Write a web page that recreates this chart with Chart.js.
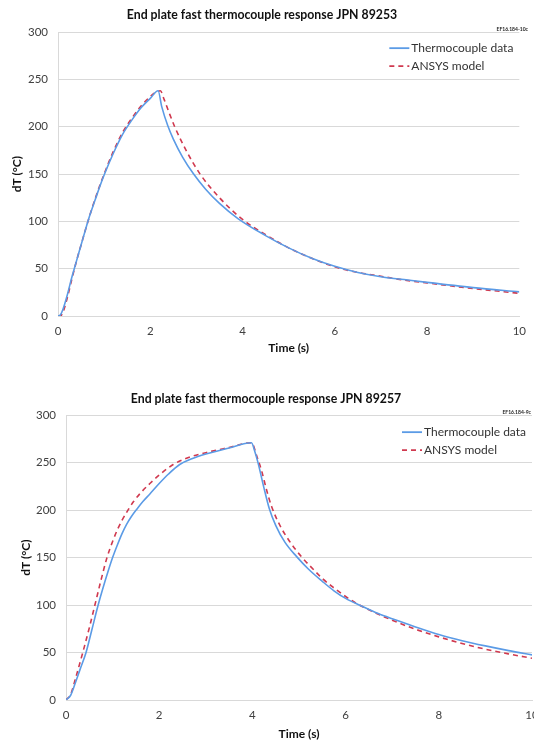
<!DOCTYPE html>
<html>
<head>
<meta charset="utf-8">
<script src="https://cdn.jsdelivr.net/npm/chart.js@4.4.1/dist/chart.umd.min.js"></script>
<style>
    html, body { margin: 0; padding: 0; background: #fff; overflow: hidden; width: 534px; height: 742px; }
    .panel { position: absolute; left: 0; }
    #panel1 { top: 0; }
    #panel2 { top: 380px; }
</style>
</head>
<body>
<div class="panel" id="panel1"><canvas id="chart1" width="534" height="360"></canvas></div>
<div class="panel" id="panel2"><canvas id="chart2" width="548" height="362"></canvas></div>
<script>
    // JPN 89253 - thermocouple data
    const timeTc1 = [0, 0.05, 0.1, 0.2, 0.3, 0.4, 0.5, 0.6, 0.7, 0.8, 0.9, 1.0, 1.2, 1.4, 1.6, 1.8, 2.0, 2.17, 2.25, 2.38, 2.5, 2.7, 2.94, 3.2, 3.5, 3.9, 4.5, 5, 5.5, 6, 6.5, 7, 7.5, 8, 9, 10];
    const tempTc1 = [0, 1, 6, 22, 41, 58, 75, 92, 108, 122, 136, 149, 172, 192, 207, 220, 230, 238, 221, 201, 187, 168, 150, 134, 119, 103, 85, 72, 61, 52.5, 46, 41.5, 38.5, 35.5, 30, 25.5];
    // JPN 89253 - ANSYS model
    const timeModel1 = [0, 0.05, 0.1, 0.2, 0.3, 0.4, 0.5, 0.6, 0.7, 0.8, 0.9, 1.0, 1.2, 1.4, 1.6, 1.8, 2.0, 2.1, 2.22, 2.3, 2.4, 2.53, 2.8, 3.08, 3.5, 4.0, 4.5, 5, 5.5, 6, 6.5, 7, 7.5, 8, 9, 10];
    const tempModel1 = [0, 0, 3, 19, 39, 58, 75, 92, 108, 123, 137, 150, 174, 194, 209, 222, 232, 236, 238, 229, 216, 200, 173, 150, 125, 102, 86, 72, 61, 52, 46, 42, 38, 35, 29, 24];

    // JPN 89257 - thermocouple data
    const timeTc2 = [0, 0.1, 0.2, 0.3, 0.43, 0.55, 0.69, 0.8, 0.9, 1.0, 1.1, 1.2, 1.3, 1.4, 1.52, 1.65, 1.8, 2.0, 2.2, 2.44, 2.7, 3.0, 3.5, 3.98, 4.05, 4.12, 4.24, 4.36, 4.5, 4.7, 4.95, 5.2, 5.5, 5.75, 6.0, 6.34, 6.7, 7, 7.5, 8, 8.5, 9, 9.5, 10];
    const tempTc2 = [0, 5, 18, 32, 50, 73, 100, 119, 135, 150, 163, 175, 185, 193, 201, 209, 217, 228, 238, 248, 254, 259, 265.5, 271, 262, 250, 225, 202, 184, 166, 151, 138, 125, 115, 107, 99, 91, 85.5, 77, 69, 62.5, 57, 52, 47.5];
    // JPN 89257 - ANSYS model
    const timeModel2 = [0, 0.1, 0.2, 0.36, 0.5, 0.62, 0.75, 0.88, 1.0, 1.1, 1.2, 1.33, 1.45, 1.6, 1.8, 2.0, 2.3, 2.6, 3.0, 3.5, 3.98, 4.1, 4.2, 4.3, 4.41, 4.6, 4.8, 5.05, 5.3, 5.5, 5.75, 6.0, 6.26, 6.5, 7, 7.5, 8, 8.5, 9, 9.5, 10];
    const tempModel2 = [0, 6, 22, 50, 76, 100, 126, 150, 167, 179, 189, 200, 209, 218, 228, 237, 248, 255, 260.5, 266, 271, 256, 241, 222, 204, 183, 167, 151, 138, 128, 118, 109, 101, 95, 84, 74.5, 66.5, 59.5, 53.5, 48.5, 44];

    const xTicks = [0, 2, 4, 6, 8, 10];
    const yTicks = [0, 50, 100, 150, 200, 250, 300];
    const seriesLabels = ['Thermocouple data', 'ANSYS model'];

    const FONT = 'Lato, "Open Sans", sans-serif';
    const BLUE = '#5b9be6';
    const RED = '#d0394f';
    const GRID = '#d9d9d9';

    function toPoints(xs, ys) {
        return xs.map((x, i) => ({ x: x, y: ys[i] }));
    }

    // legend drawn inside the plot area, top right, plus the small figure code
    const innerLegend = {
        id: 'innerLegend',
        afterDraw(chart, args, opts) {
            const ctx = chart.ctx;
            const area = chart.chartArea;
            ctx.save();
            chart.data.datasets.forEach((ds, i) => {
                const y = area.top + opts.top + i * 18;
                const x0 = area.right - opts.fromRight;
                ctx.beginPath();
                ctx.strokeStyle = ds.borderColor;
                ctx.lineWidth = 1.8;
                ctx.setLineDash(ds.borderDash || []);
                ctx.moveTo(x0, y);
                ctx.lineTo(x0 + 20, y);
                ctx.stroke();
                ctx.setLineDash([]);
                ctx.fillStyle = '#333';
                ctx.font = '12px ' + FONT;
                ctx.textBaseline = 'middle';
                ctx.textAlign = 'left';
                ctx.fillText(ds.label, x0 + 22, y);
            });
            ctx.font = 'bold 5px ' + FONT;
            ctx.fillStyle = '#222';
            ctx.textAlign = 'right';
            ctx.textBaseline = 'middle';
            ctx.fillText(opts.code, opts.codeX, area.top - 3);
            ctx.restore();
        }
    };

    function makeChart(id, title, tcX, tcY, mdX, mdY, lay) {
        const ctx = document.getElementById(id).getContext('2d');
        return new Chart(ctx, {
            type: 'line',
            data: {
                datasets: [{
                    label: seriesLabels[0],
                    data: toPoints(tcX, tcY),
                    borderColor: BLUE,
                    borderWidth: 1.6,
                    pointRadius: 0,
                    cubicInterpolationMode: 'monotone'
                }, {
                    label: seriesLabels[1],
                    data: toPoints(mdX, mdY),
                    borderColor: RED,
                    borderWidth: 1.6,
                    borderDash: [5, 4],
                    pointRadius: 0,
                    cubicInterpolationMode: 'monotone'
                }]
            },
            options: {
                responsive: false,
                animation: false,
                devicePixelRatio: 1,
                layout: {
                    padding: { left: 0, right: lay.padRight, top: 0, bottom: 0 }
                },
                scales: {
                    x: {
                        type: 'linear',
                        min: 0,
                        max: 10,
                        afterBuildTicks: (scale) => { scale.ticks = xTicks.map(v => ({ value: v })); },
                        afterFit: (scale) => { scale.height = lay.xHeight; },
                        grid: { display: false, drawTicks: false },
                        border: { display: true, color: GRID, width: 1 },
                        ticks: { padding: 8, color: '#404040', font: { family: FONT, size: 11.5 } },
                        title: {
                            display: true,
                            text: 'Time (s)',
                            color: '#111',
                            font: { family: FONT, size: 12, weight: 'bold' },
                            padding: { top: 0, bottom: lay.xTitlePad }
                        }
                    },
                    y: {
                        min: 0,
                        max: 300,
                        afterBuildTicks: (scale) => { scale.ticks = yTicks.map(v => ({ value: v })); },
                        afterFit: (scale) => { scale.width = lay.yWidth; },
                        grid: { color: GRID, lineWidth: 1, drawTicks: false },
                        border: { display: true, color: GRID, width: 1 },
                        ticks: { padding: 10, color: '#404040', font: { family: FONT, size: 11.5 } },
                        title: {
                            display: true,
                            text: 'dT (°C)',
                            color: '#111',
                            font: { family: FONT, size: 12, weight: 'bold' },
                            padding: { top: lay.yTitlePad, bottom: 0 }
                        }
                    }
                },
                plugins: {
                    legend: { display: false },
                    tooltip: { enabled: false },
                    title: {
                        display: true,
                        text: title,
                        color: '#111',
                        font: { family: FONT, size: 12.3, weight: 'bold' },
                        padding: { top: lay.titleTop, bottom: lay.titleBottom }
                    },
                    innerLegend: { top: lay.legendTop, fromRight: lay.legendRight, code: lay.code, codeX: lay.codeX }
                }
            },
            plugins: [innerLegend]
        });
    }

    makeChart('chart1', 'End plate fast thermocouple response JPN 89253',
        timeTc1, tempTc1, timeModel1, tempModel1,
        { padRight: 10, xHeight: 44, xTitlePad: 4.5, yWidth: 58, yTitlePad: 10,
          titleTop: 8, titleBottom: 9.4, legendTop: 16, legendRight: 130,
          code: 'EF16.184-10c', codeX: 528 });

    makeChart('chart2', 'End plate fast thermocouple response JPN 89257',
        timeTc2, tempTc2, timeModel2, tempModel2,
        { padRight: 16, xHeight: 42, xTitlePad: 1, yWidth: 66, yTitlePad: 19,
          titleTop: 12, titleBottom: 8.4, legendTop: 17, legendRight: 130,
          code: 'EF16.184-9c', codeX: 531 });
</script>
</body>
</html>
